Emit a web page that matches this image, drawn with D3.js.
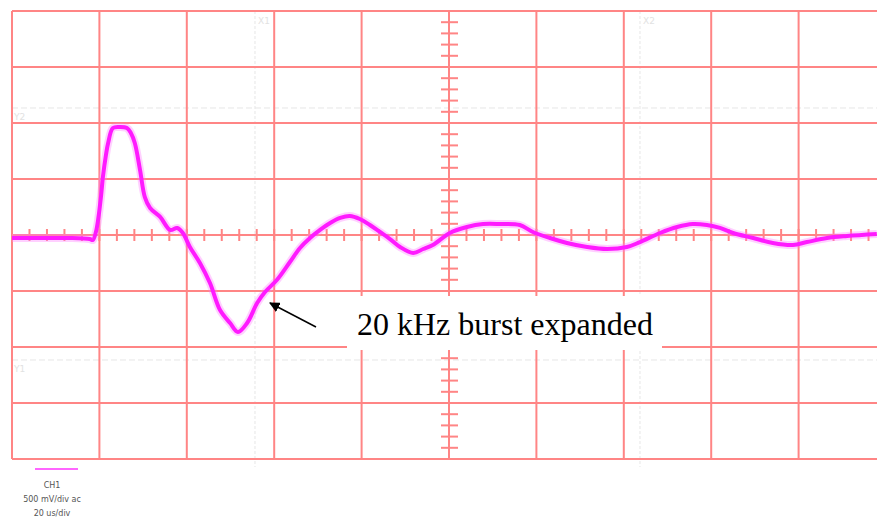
<!DOCTYPE html>
<html>
<head>
<meta charset="utf-8">
<script src="https://cdn.jsdelivr.net/npm/d3@7"></script>
<style>
body{margin:0;background:#fff;}
svg{display:block;}
</style>
</head>
<body>
<script>
// time in microseconds (20 us/div), voltage in volts (500 mV/div)
const timeUs=[0,4.1,8.7,13.3,17.8,18.5,19.2,19.7,20.4,20.8,21.5,22.0,23.1,24.7,26.3,27.2,28.1,29.3,30.4,31.6,33.9,36.2,37.8,39.1,40.7,43.0,45.3,47.6,49.9,51.7,53.8,56.1,57.9,60.6,63.6,65.9,68.2,70.5,72.8,75.1,77.3,79.6,81.9,84.2,86.5,88.8,91.8,94.1,96.3,100.2,104.1,107.8,111.7,116.2,119.2,123.1,127.0,131.6,136.2,140.7,143.7,148.3,152.2,155.8,159.0,162.0,165.0,169.6,174.1,178.7,181.9,186.5,191.1,197.9];
const volts=[-0.027,-0.027,-0.027,-0.027,-0.036,-0.045,0.027,0.134,0.357,0.518,0.714,0.821,0.955,0.964,0.955,0.911,0.821,0.580,0.339,0.241,0.161,0.045,0.063,0.018,-0.107,-0.250,-0.429,-0.670,-0.786,-0.866,-0.786,-0.607,-0.509,-0.402,-0.241,-0.116,-0.027,0.045,0.107,0.152,0.170,0.143,0.089,0.027,-0.036,-0.107,-0.161,-0.125,-0.089,0.018,0.071,0.098,0.098,0.089,0.027,-0.027,-0.071,-0.107,-0.125,-0.107,-0.063,0.018,0.071,0.098,0.089,0.063,0.018,-0.027,-0.071,-0.089,-0.063,-0.027,-0.009,0.009];

const cursorsT=[{name:'X1',t:55.6},{name:'X2',t:143.7}];
const cursorsV=[{name:'Y2',v:1.134},{name:'Y1',v:-1.116}];
const legendLines=['CH1','500 mV/div ac','20 us/div'];
const note='20 kHz burst expanded';

const W=877,H=529;
const svg=d3.select('body').append('svg').attr('width',W).attr('height',H);

const x=d3.scaleLinear().domain([0,200]).range([12,12+87.4*10]);
const y=d3.scaleLinear().domain([-2,2]).range([459,11]);

const gridCol='#ff8585';

// faint cursor lines
svg.selectAll('.curT').data(cursorsT).enter().append('line')
  .attr('x1',d=>x(d.t)).attr('x2',d=>x(d.t)).attr('y1',y(2)).attr('y2',y(-2)+8)
  .attr('stroke','#e6e6e6').attr('stroke-width',1).attr('stroke-dasharray','3,2');
svg.selectAll('.curV').data(cursorsV).enter().append('line')
  .attr('x1',x(0)).attr('x2',W).attr('y1',d=>y(d.v)).attr('y2',d=>y(d.v))
  .attr('stroke','#e6e6e6').attr('stroke-width',1).attr('stroke-dasharray','6,3');
svg.selectAll('.curTl').data(cursorsT).enter().append('text')
  .attr('x',d=>x(d.t)+3).attr('y',24).text(d=>d.name)
  .attr('font-family','DejaVu Sans').attr('font-size',9).attr('fill','#e2e2e2');
svg.selectAll('.curVl').data(cursorsV).enter().append('text')
  .attr('x',14).attr('y',d=>y(d.v)+12).text(d=>d.name)
  .attr('font-family','DejaVu Sans').attr('font-size',9).attr('fill','#e2e2e2');

// major grid
svg.append('g').selectAll('line').data(d3.range(0,201,20)).enter().append('line')
  .attr('x1',d=>x(d)).attr('x2',d=>x(d)).attr('y1',y(2)).attr('y2',y(-2))
  .attr('stroke',gridCol).attr('stroke-width',2);
svg.append('g').selectAll('line').data(d3.range(-2,2.01,0.5)).enter().append('line')
  .attr('x1',x(0)).attr('x2',W).attr('y1',d=>y(d)).attr('y2',d=>y(d))
  .attr('stroke',gridCol).attr('stroke-width',2);

// minor ticks on the center axes
svg.append('g').selectAll('line').data(d3.range(0,200.1,4)).enter().append('line')
  .attr('x1',d=>x(d)).attr('x2',d=>x(d)).attr('y1',y(0)-6).attr('y2',y(0)+6)
  .attr('stroke',gridCol).attr('stroke-width',2);
svg.append('g').selectAll('line').data(d3.range(-2,2.01,0.1)).enter().append('line')
  .attr('x1',x(100)-8).attr('x2',x(100)+9).attr('y1',d=>y(d)).attr('y2',d=>y(d))
  .attr('stroke',gridCol).attr('stroke-width',2);

// trace
const pts=timeUs.map((t,i)=>[t,volts[i]]);
const line=d3.line().x(d=>x(d[0])).y(d=>y(d[1])).curve(d3.curveCatmullRom);
svg.append('path').datum(pts).attr('d',line)
  .attr('fill','none').attr('stroke','#ff77ff').attr('stroke-opacity',0.35).attr('stroke-width',8);
svg.append('path').datum(pts).attr('d',line)
  .attr('fill','none').attr('stroke','#ff1aff').attr('stroke-width',4).attr('stroke-linejoin','round');

// annotation box
svg.append('rect').attr('x',347).attr('y',296).attr('width',315).attr('height',54).attr('fill','#fff');
svg.append('text').attr('x',357).attr('y',335).text(note)
  .attr('font-family','Liberation Serif, Times New Roman, serif').attr('font-size',32).attr('fill','#000');

svg.append('defs').append('marker').attr('id','arr')
  .attr('viewBox','0 0 10 10').attr('refX',9).attr('refY',5)
  .attr('markerWidth',7).attr('markerHeight',7).attr('orient','auto')
  .append('path').attr('d','M0,0L10,5L0,10Z').attr('fill','#000');
svg.append('line').attr('x1',316).attr('y1',327).attr('x2',270).attr('y2',303)
  .attr('stroke','#000').attr('stroke-width',1.5).attr('marker-end','url(#arr)');

// channel legend
svg.append('line').attr('x1',35).attr('x2',78).attr('y1',469).attr('y2',469)
  .attr('stroke','#ff66ff').attr('stroke-width',2);
svg.selectAll('.leg').data(legendLines).enter().append('text')
  .attr('x',52).attr('y',(d,i)=>488+i*14).attr('text-anchor','middle').text(d=>d)
  .attr('font-family','DejaVu Sans').attr('font-size',8).attr('fill','#555');
</script>
</body>
</html>
